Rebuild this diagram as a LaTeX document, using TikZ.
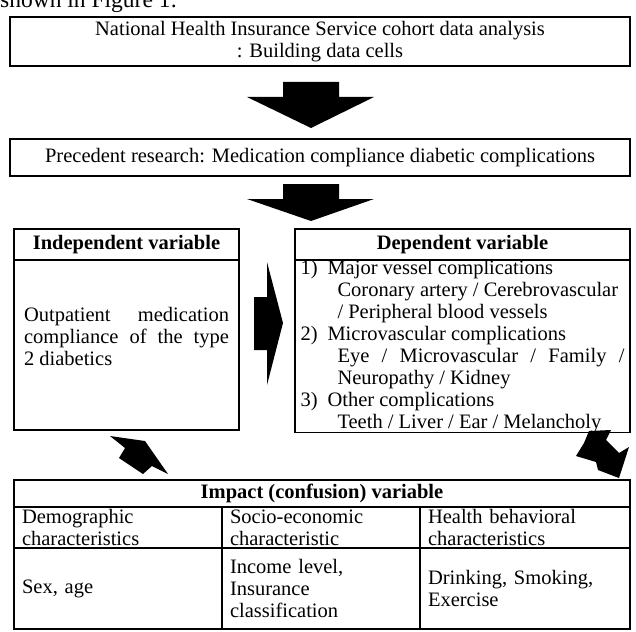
\documentclass[tikz,border=0pt]{standalone}
\usepackage{fontspec}
\setmainfont{Liberation Serif}
\usetikzlibrary{positioning,calc}

\begin{document}
\begin{tikzpicture}[
    x=1pt, y=-1pt,
    node distance=0pt,
    txt/.style={font=\fontsize{20.5}{22}\selectfont},
    headtxt/.style={font=\fontsize{20.5}{22}\selectfont\bfseries},
    box/.style={rectangle, draw, line width=1.6pt, outer sep=0pt, inner sep=0pt, align=center, txt},
    cell/.style={rectangle, draw, line width=1.3pt, outer sep=0pt, inner xsep=8pt, inner ysep=0pt, align=left, txt},
    blockarrow/.style={fill=black},
]
    \useasboundingbox (0,0) rectangle (636,631);

    % running text above the figure, cut by the page
    \node[anchor=base west, inner sep=0pt, font=\fontsize{23.5}{26}\selectfont] (caption) at (0,8) {shown in Figure 1:};

    \node[box, anchor=north west, minimum width=620pt, minimum height=49pt] (cohort) at (10,17) {National Health Insurance Service cohort data analysis\\: Building data cells};
    \node[box, anchor=north west, minimum width=620pt, minimum height=37pt] (precedent) at (10,139) {Precedent research: Medication compliance diabetic complications};

    \node[box, headtxt, anchor=north west, minimum width=225pt, minimum height=31pt] (indephead) at (14,229) {Independent variable};
    \node[box, below=of indephead, minimum width=225pt, minimum height=170pt] (indep) {};
    \node[txt, inner sep=0pt, align=left] (indeptext) at ($(indep.center)+(0,-9)$) {%
        \makebox[205pt][s]{Outpatient\ \ medication}\\
        \makebox[205pt][s]{compliance of the type}\\
        \makebox[205pt][l]{2 diabetics}};

    \node[box, headtxt, anchor=north west, minimum width=335pt, minimum height=31pt] (dephead) at (295,229) {Dependent variable};
    \node[box, below=of dephead, minimum width=335pt, minimum height=168pt, align=left] (dep) {%
        \makebox[27pt][l]{1)}Major vessel complications\\
        \hspace*{37pt}Coronary artery / Cerebrovascular\\
        \hspace*{37pt}/ Peripheral blood vessels\\
        \makebox[27pt][l]{2)}Microvascular complications\\
        \hspace*{37pt}\makebox[287pt][s]{Eye\ /\ Microvascular\ /\ Family\ /}\\
        \hspace*{37pt}Neuropathy / Kidney\\
        \makebox[27pt][l]{3)}Other complications\\
        \hspace*{37pt}Teeth / Liver / Ear / Melancholy};

    % impact table
    \node[cell, headtxt, anchor=north west, minimum width=616pt, minimum height=27pt, align=center] (imphead) at (14,480) {Impact (confusion) variable};
    \node[cell, anchor=north west, text width=192pt, minimum height=41pt] (demo) at (imphead.south west) {Demographic\\characteristics};
    \node[cell, anchor=north west, text width=182pt, minimum height=41pt] (socio) at (demo.north east) {Socio-economic\\characteristic};
    \node[cell, anchor=north west, text width=194pt, minimum height=41pt] (health) at (socio.north east) {Health behavioral\\characteristics};
    \node[cell, anchor=north west, text width=192pt, minimum height=81pt] (sexage) at (demo.south west) {Sex, age};
    \node[cell, anchor=north west, text width=182pt, minimum height=81pt] (income) at (sexage.north east) {Income level,\\Insurance\\classification};
    \node[cell, anchor=north west, text width=194pt, minimum height=81pt] (drink) at (income.north east) {Drinking, Smoking,\\Exercise};

    % block arrows
    \fill[blockarrow] (283,82) -- (339,82) -- (339,97) -- (374,97) -- (311,128) -- (247,97) -- (283,97) -- cycle;
    \fill[blockarrow] (283,184) -- (339,184) -- (339,199) -- (374,199) -- (311,221) -- (247,199) -- (283,199) -- cycle;
    \fill[blockarrow] (254,297) -- (267,297) -- (267,262) -- (283,323) -- (267,385) -- (267,350) -- (254,350) -- cycle;
    \fill[blockarrow] (110,436) -- (145,441) -- (168,474) -- (152,466) -- (143,474) -- (119,458) -- (125,448) -- cycle;
    \fill[blockarrow] (589,431) -- (611,430) -- (606,440) -- (619,453) -- (629,447) -- (619,478) -- (598,470) -- (596,462) -- (576,456) -- (584,443) -- cycle;
\end{tikzpicture}
\end{document}
